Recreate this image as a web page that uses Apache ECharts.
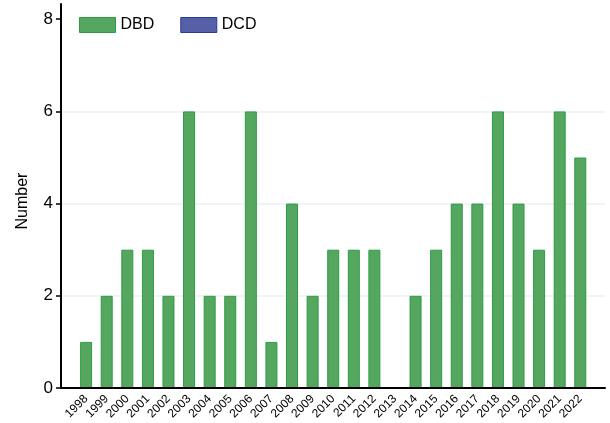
<!DOCTYPE html>
<html>
<head>
<meta charset="utf-8">
<script src="https://cdn.jsdelivr.net/npm/echarts@6/dist/echarts.min.js"></script>
<style>
  html, body { margin: 0; padding: 0; background: #fff; }
  #chart { width: 610px; height: 423px; }
</style>
</head>
<body>
<div id="chart"></div>
<script>
const years = ['1998', '1999', '2000', '2001', '2002', '2003', '2004', '2005', '2006', '2007', '2008', '2009',
  '2010', '2011', '2012', '2013', '2014', '2015', '2016', '2017', '2018', '2019', '2020', '2021', '2022']
const dbd = [1, 2, 3, 3, 2, 6, 2, 2, 6, 1, 4, 2, 3, 3, 3, 0, 2, 3, 4, 4, 6, 4, 3, 6, 5]
const dcd = [0, 0, 0, 0, 0, 0, 0, 0, 0, 0, 0, 0, 0, 0, 0, 0, 0, 0, 0, 0, 0, 0, 0, 0, 0]
const yTicks = [0, 2, 4, 6, 8]
const gridTicks = [2, 4, 6]

const font = 'Liberation Sans, Arial, sans-serif'
let myChart = echarts.init(document.getElementById('chart'))
let idx = years.map((y, i) => i)
let option = {
  animation: false,
  grid: { left: 61, right: 5, top: 4, bottom: 35 },
  legend: {
    left: 74,
    top: 12,
    icon: 'rect',
    itemWidth: 36,
    itemHeight: 15,
    itemGap: 26,
    textStyle: { fontFamily: font, fontSize: 16, color: '#000' },
    data: [
      { name: 'DBD', itemStyle: { color: '#55a760', borderColor: '#2f9a45', borderWidth: 1 } },
      { name: 'DCD', itemStyle: { color: '#5660a8', borderColor: '#2a3a96', borderWidth: 1 } }
    ]
  },
  xAxis: {
    type: 'value',
    min: -1.22,
    max: 25.2,
    z: 5,
    splitLine: { show: false },
    axisLine: { show: true, lineStyle: { color: '#000', width: 2 } },
    axisTick: { show: false },
    axisLabel: {
      customValues: idx,
      formatter: v => years[Math.round(v)],
      rotate: 45,
      margin: 9,
      color: '#000',
      fontFamily: font,
      fontSize: 12
    }
  },
  yAxis: [
    {
      type: 'value',
      min: 0,
      max: 8.33,
      name: 'Number',
      nameLocation: 'middle',
      nameGap: 30,
      nameTextStyle: { fontFamily: font, fontSize: 16, color: '#000', padding: [0, 10, 0, 0] },
      axisLine: { show: true, onZero: false, lineStyle: { color: '#000', width: 2 } },
      axisTick: { show: true, customValues: yTicks, length: 5, lineStyle: { color: '#000', width: 1.5 } },
      axisLabel: {
        customValues: yTicks,
        margin: 8,
        color: '#000',
        fontFamily: font,
        fontSize: 17
      },
      splitLine: { show: false }
    },
    {
      // faint grid lines only
      type: 'value',
      position: 'left',
      min: 0,
      max: 8.33,
      axisLine: { show: false },
      axisTick: { show: false, customValues: gridTicks },
      axisLabel: { show: false, customValues: gridTicks },
      splitLine: { show: true, lineStyle: { color: '#edf1f4', width: 1.5 } }
    }
  ],
  series: [
    {
      name: 'DBD',
      type: 'bar',
      stack: 'n',
      barWidth: 12,
      data: dbd.map((v, i) => [i, v]),
      itemStyle: { color: '#55a760', borderColor: '#2f9a45', borderWidth: 1 }
    },
    {
      name: 'DCD',
      type: 'bar',
      stack: 'n',
      barWidth: 12,
      data: dcd.map((v, i) => [i, v]),
      itemStyle: { color: '#5660a8', borderWidth: 0 }
    }
  ]
}
myChart.setOption(option)
</script>
</body>
</html>
